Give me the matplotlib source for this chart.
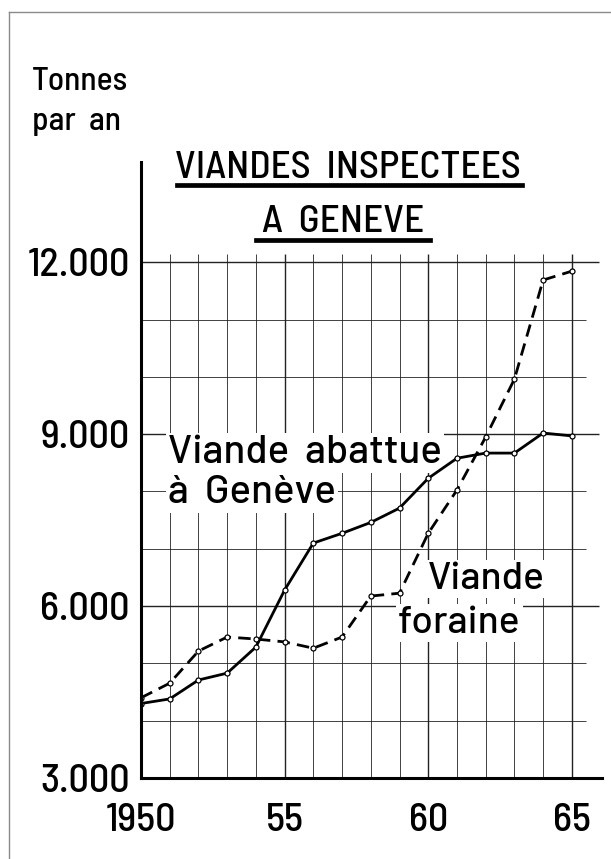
import matplotlib
matplotlib.use("Agg")
import matplotlib.pyplot as plt
from matplotlib.lines import Line2D

plt.rcParams['font.family'] = ['Barlow Semi Condensed', 'Roboto Condensed', 'DejaVu Sans']
plt.rcParams['font.weight'] = 'medium'

# --- données ---
annees = list(range(1950, 1966))
abattue = [4300, 4380, 4710, 4830, 5285, 6280, 7100, 7270,
           7460, 7710, 8230, 8580, 8670, 8670, 9020, 8970]
foraine = [4400, 4655, 5215, 5460, 5425, 5375, 5265, 5460,
           6175, 6225, 7270, 8025, 8950, 9960, 11690, 11845]

y_ticks = [3000, 6000, 9000, 12000]
y_labels = ["3.000", "6.000", "9.000", "12.000"]
x_ticks = [1950, 1955, 1960, 1965]
x_labels = ["1950", "55", "60", "65"]

W, H = 611, 859
fig = plt.figure(figsize=(W / 100, H / 100), dpi=100)
fig.patch.set_facecolor("white")

# cadre de la page (bord gauche et haut)
fig.add_artist(Line2D([9 / W, 9 / W], [0, 1 - 12 / H], transform=fig.transFigure,
                      color="#8a8a8a", lw=1))
fig.add_artist(Line2D([9 / W, 1], [1 - 12 / H, 1 - 12 / H], transform=fig.transFigure,
                      color="#8a8a8a", lw=1))

ax = fig.add_axes([141 / W, 81 / H, 461 / W, 616 / H])
ax.set_xlim(1950, 1966.05)
ax.set_ylim(3000, 13750)

# quadrillage
for x in annees[1:]:
    major = (x % 5 == 0)
    ax.vlines(x, 3000, 12150, color="#222222", lw=1.0 if major else 0.6, zorder=1)
for y in range(4000, 12001, 1000):
    major = (y % 3000 == 0)
    ax.hlines(y, 1950, 1965.95 if major else 1965.5, color="#222222",
              lw=1.0 if major else 0.6, zorder=1)

# courbes
ax.plot(annees, abattue, color="black", lw=2, marker="o", ms=3.6, mfc="white",
        mec="black", mew=0.9, zorder=4)
ax.plot(annees, foraine, color="black", lw=2, dashes=(4.5, 2.6), marker="o", ms=3.6,
        mfc="white", mec="black", mew=0.9, zorder=4)

# étiquettes des courbes
box = dict(facecolor="white", edgecolor="none", pad=1.5)
fs = 29
lab = ['Barlow', 'Barlow Semi Condensed', 'DejaVu Sans']
ax.text(1950.94, 8494, "Viande  abattue", fontsize=fs, family=lab, va="baseline",
        ha="left", bbox=box, zorder=3)
ax.text(1950.94, 7797, "à  Genève", fontsize=fs, family=lab, va="baseline",
        ha="left", bbox=box, zorder=3)
ax.text(1959.97, 6297, "Viande", fontsize=28, family=lab, va="baseline",
        ha="left", bbox=box, zorder=3)
ax.text(1958.95, 5529, "foraine", fontsize=28, family=lab, va="baseline",
        ha="left", bbox=box, zorder=3)

# axes
for s in ["top", "right"]:
    ax.spines[s].set_visible(False)
for s in ["left", "bottom"]:
    ax.spines[s].set_linewidth(2.2)
    ax.spines[s].set_zorder(5)
ax.set_yticks(y_ticks)
ax.set_yticklabels(y_labels, fontsize=fs)
ax.set_xticks(x_ticks)
ax.set_xticklabels(x_labels, fontsize=fs)
ax.tick_params(axis="both", length=0)
ax.tick_params(axis="y", pad=8)
ax.tick_params(axis="x", pad=18)

# titres
fig.text(32 / W, 1 - 90 / H, "Tonnes", fontsize=24, ha="left", va="baseline")
fig.text(32 / W, 1 - 130 / H, "par  an", fontsize=24, ha="left", va="baseline")
fig.text(348 / W, 1 - 178 / H, "VIANDES  INSPECTEES", fontsize=28.2, ha="center", va="baseline")
fig.text(343 / W, 1 - 232 / H, "A  GENEVE", fontsize=28.2, ha="center", va="baseline")
fig.add_artist(Line2D([177 / W, 522 / W], [1 - 185 / H, 1 - 185 / H],
                      transform=fig.transFigure, color="black", lw=3.4))
fig.add_artist(Line2D([256 / W, 430 / W], [1 - 240 / H, 1 - 240 / H],
                      transform=fig.transFigure, color="black", lw=3.4))

fig.savefig("out.png", dpi=100, facecolor="white")
